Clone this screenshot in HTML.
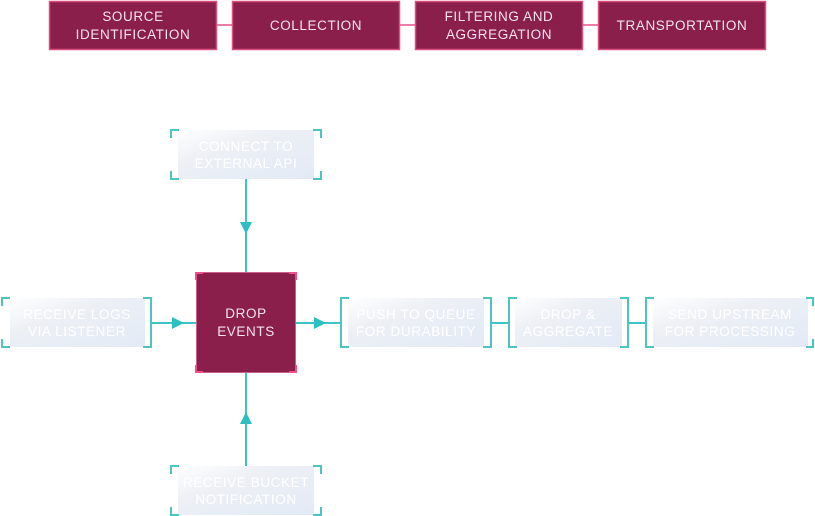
<!DOCTYPE html>
<html><head><meta charset="utf-8"><style>
html,body{margin:0;padding:0;background:#fff;width:815px;height:516px;overflow:hidden}
svg{display:block}
text{font-family:"Liberation Sans",sans-serif;font-size:13.5px;letter-spacing:0.6px;text-anchor:middle}
.t{fill:#f6e4ee}.w{fill:#ffffff}
</style></head><body>
<svg width="815" height="516" viewBox="0 0 815 516">
<defs>
<linearGradient id="g" x1="0" y1="0" x2="1" y2="1">
<stop offset="0" stop-color="#ffffff"/><stop offset="0.35" stop-color="#edf0f5"/><stop offset="1" stop-color="#e2eaf6"/>
</linearGradient>
</defs>
<!-- top connectors -->
<g stroke="#e8508a" stroke-width="1.5">
<line x1="217" y1="25" x2="233" y2="25"/><line x1="400" y1="25" x2="416" y2="25"/><line x1="583" y1="25" x2="599" y2="25"/>
</g>
<g fill="#8a1f4c" stroke="#d9507f" stroke-width="1.5">
<rect x="49.5" y="1.5" width="167" height="48"/>
<rect x="232.5" y="1.5" width="167" height="48"/>
<rect x="415.5" y="1.5" width="167" height="48"/>
<rect x="598.5" y="1.5" width="167" height="48"/>
</g>
<text class="t" x="133" y="21">SOURCE</text><text class="t" x="133" y="39">IDENTIFICATION</text>
<text class="t" x="316" y="30">COLLECTION</text>
<text class="t" x="499" y="21">FILTERING AND</text><text class="t" x="499" y="39">AGGREGATION</text>
<text class="t" x="682" y="30">TRANSPORTATION</text>

<!-- teal lines -->
<g stroke="#3cc3c3" stroke-width="2" fill="none">
<line x1="246" y1="179" x2="246" y2="273"/>
<line x1="246" y1="372" x2="246" y2="466"/>
<line x1="151" y1="323" x2="196" y2="323"/>
<line x1="296" y1="323" x2="341" y2="323"/>
<line x1="491" y1="323" x2="509" y2="323"/>
<line x1="628" y1="323" x2="646" y2="323"/>
</g>
<g fill="#2cc0c0">
<polygon points="240,222 252,222 246,234"/>
<polygon points="240,424 252,424 246,412"/>
<polygon points="172,317 172,329 184,323"/>
<polygon points="314,317 314,329 326,323"/>
</g>

<!-- light boxes -->
<g fill="url(#g)">
<rect x="10" y="298" width="135" height="49"/>
<rect x="178" y="130" width="136" height="49"/>
<rect x="178" y="466" width="136" height="49"/>
<rect x="348" y="298" width="136" height="49"/>
<rect x="515" y="298" width="107" height="49"/>
<rect x="653" y="298" width="155" height="49"/>
</g>
<g stroke="#4cc4c4" stroke-width="2" fill="none">
<!-- left box -->
<path d="M10,298 H2 V306 M2,339 V347 H10 M143,298 H151 V347 H143"/>
<!-- top box -->
<path d="M179,130 H171 V138 M313,130 H321 V138 M171,171 V179 H179 M321,171 V179 H313"/>
<!-- bottom box -->
<path d="M179,466 H171 V474 M313,466 H321 V474 M171,507 V515 H179 M321,507 V515 H313"/>
<!-- right boxes -->
<path d="M349,298 H341 V347 H349 M483,298 H491 V347 H483"/>
<path d="M517,298 H509 V347 H517 M620,298 H628 V347 H620"/>
<path d="M654,298 H646 V347 H654 M806,298 H813 V306 M813,339 V347 H806"/>
</g>
<text class="w" x="77" y="319">RECEIVE LOGS</text><text class="w" x="77" y="336">VIA LISTENER</text>
<text class="w" x="246" y="151">CONNECT TO</text><text class="w" x="246" y="168">EXTERNAL API</text>
<text class="w" x="246" y="487">RECEIVE BUCKET</text><text class="w" x="246" y="504">NOTIFICATION</text>
<text class="w" x="416" y="319">PUSH TO QUEUE</text><text class="w" x="416" y="336">FOR DURABILITY</text>
<text class="w" x="568" y="319">DROP &amp;</text><text class="w" x="568" y="336">AGGREGATE</text>
<text class="w" x="730" y="319">SEND UPSTREAM</text><text class="w" x="730" y="336">FOR PROCESSING</text>

<!-- center box -->
<rect x="196.5" y="272.5" width="99" height="100" fill="#8a1f4c" stroke="#c9608a" stroke-width="1"/>
<g stroke="#f0508a" stroke-width="2" fill="none">
<path d="M196,280 V273 H203 M289,273 H296 V280 M196,365 V372 H203 M289,372 H296 V365"/>
</g>
<text class="t" x="246" y="318">DROP</text><text class="t" x="246" y="336">EVENTS</text>
</svg>
</body></html>
